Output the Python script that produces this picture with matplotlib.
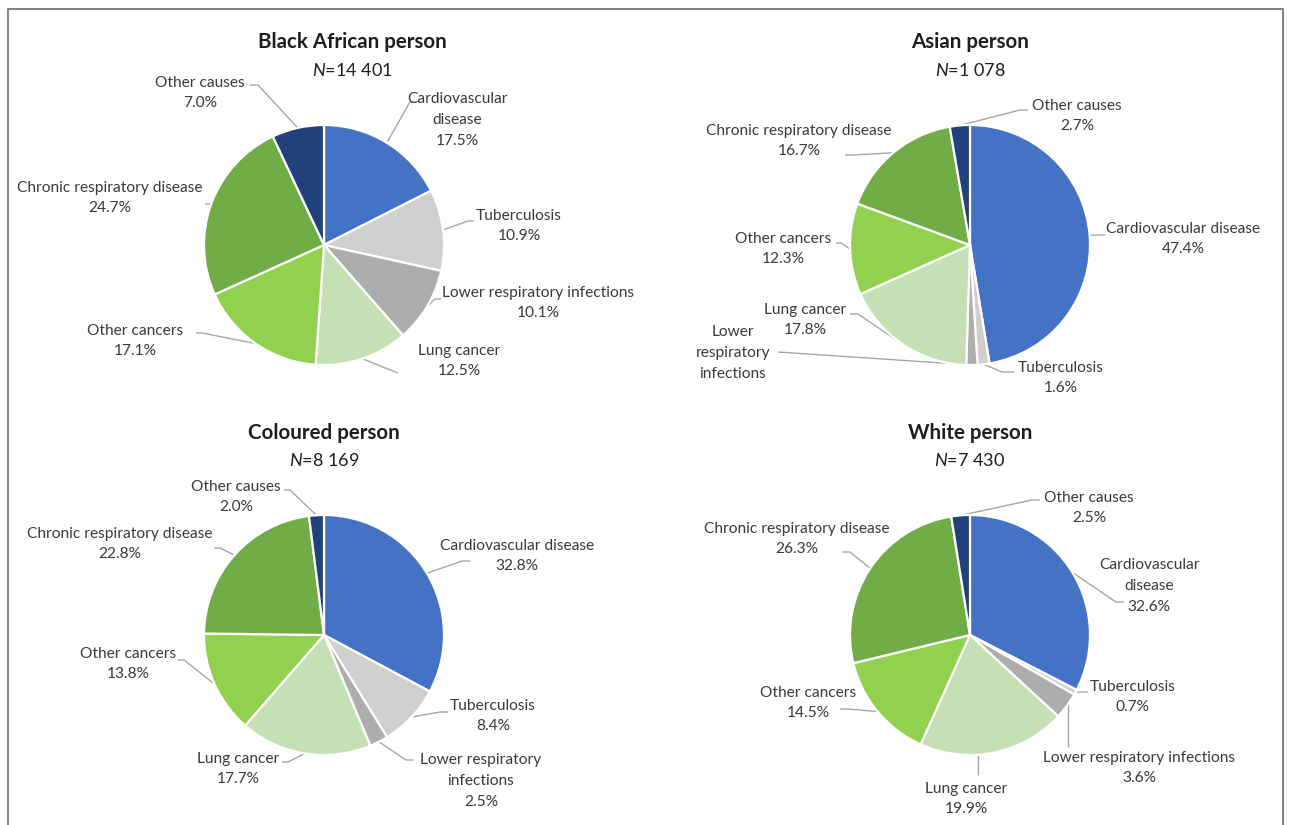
import numpy as np
import matplotlib
matplotlib.use("Agg")
import matplotlib.pyplot as plt

plt.rcParams['font.family'] = ['Lato', 'DejaVu Sans']
plt.rcParams['mathtext.fontset'] = 'custom'
plt.rcParams['mathtext.it'] = 'Lato:italic'
plt.rcParams['mathtext.rm'] = 'Lato'

# ---- data -------------------------------------------------------------
causes = ["Cardiovascular disease", "Tuberculosis", "Lower respiratory infections",
          "Lung cancer", "Other cancers", "Chronic respiratory disease", "Other causes"]
cause_colors = ["#4472C4", "#D0CECE", "#ADADAD", "#C5E0B4", "#92D050", "#70AD47", "#22407A"]

groups = ["Black African person", "Asian person", "Coloured person", "White person"]
group_n = ["14 401", "1 078", "8 169", "7 430"]

black_african = [17.5, 10.9, 10.1, 12.5, 17.1, 24.7, 7.0]
asian = [47.4, 1.6, 1.5, 17.8, 12.3, 16.7, 2.7]
coloured = [32.8, 8.4, 2.5, 17.7, 13.8, 22.8, 2.0]
white = [32.6, 0.7, 3.6, 19.9, 14.5, 26.3, 2.5]

# label for Asian lower respiratory infections is printed without a percentage
asian_show_value = [True, True, False, True, True, True, True]

# ---- layout (pixel coordinates, y measured from the top) ---------------
W, H = 1289, 825
R = 120
def Y(y):
    return H - y

layout = {
    "Black African person": dict(
        center=(324, 245), title=(352, 42),
        wrap=["Cardiovascular\ndisease", "Tuberculosis", "Lower respiratory infections",
              "Lung cancer", "Other cancers", "Chronic respiratory disease", "Other causes"],
        text=[(457, 120), (519, 226), (538, 303), (459, 361), (135, 341), (110, 198), (200, 93)],
        lead=[(416, 102, -6), (474, 221, -6), (441, 299, -6), (398, 373, 0),
              (196, 333, 6), (205, 204, 4), (250, 85, 8)]),
    "Asian person": dict(
        center=(970, 245), title=(970, 42),
        wrap=["Cardiovascular disease", "Tuberculosis", "Lower\nrespiratory\ninfections",
              "Lung cancer", "Other cancers", "Chronic respiratory disease", "Other causes"],
        text=[(1183, 239), (1061, 378), (733, 353), (805, 320), (783, 249), (799, 141), (1077, 116)],
        lead=[(1105, 235, -6), (1014, 372, -12), (778, 352, 0), (850, 314, 8),
              (836, 243, 5), (845, 155, 8), (1028, 110, -8)]),
    "Coloured person": dict(
        center=(324, 635), title=(324, 433),
        wrap=["Cardiovascular disease", "Tuberculosis", "Lower respiratory\ninfections",
              "Lung cancer", "Other cancers", "Chronic respiratory disease", "Other causes"],
        text=[(517, 556), (493, 716), (481, 781), (238, 769), (128, 664), (120, 544), (236, 497)],
        lead=[(470, 561, -8), (448, 712, -8), (413, 760, -7), (282, 762, 6),
              (178, 660, 6), (214, 548, 6), (284, 490, 6)]),
    "White person": dict(
        center=(970, 635), title=(970, 433),
        wrap=["Cardiovascular\ndisease", "Tuberculosis", "Lower respiratory infections",
              "Lung cancer", "Other cancers", "Chronic respiratory disease", "Other causes"],
        text=[(1149, 586), (1133, 697), (1139, 768), (966, 799), (808, 703), (797, 539), (1089, 508)],
        lead=[(1124, 602, -8), (1088, 692, -6), (1068, 747, "v"), (978, 775, "v"),
              (840, 709, 8), (842, 552, 8), (1040, 500, -8)]),
}

series = {"Black African person": black_african, "Asian person": asian,
          "Coloured person": coloured, "White person": white}
show_values = {"Asian person": asian_show_value}

label_color = "#3A3A3A"
line_color = "#A6A6A6"

fig = plt.figure(figsize=(W / 100, H / 100), dpi=100)
ax = fig.add_axes([0, 0, 1, 1])

for grp, n in zip(groups, group_n):
    L = layout[grp]
    vals = series[grp]
    cx, cy = L["center"]
    wedges, _ = ax.pie(vals, center=(cx, Y(cy)), radius=R, startangle=90,
                       counterclock=False, colors=cause_colors,
                       wedgeprops=dict(edgecolor="white", linewidth=1.6))
    tx, ty = L["title"]
    ax.text(tx, Y(ty), grp, ha="center", va="center", fontsize=14.8,
            fontweight="bold", color="#1E1E1E")
    ax.text(tx, Y(ty + 28), r"$\mathit{N}$=" + n, ha="center", va="center",
            fontsize=13, color="#1E1E1E")

    flags = show_values.get(grp, [True] * len(vals))
    for i, (w, v) in enumerate(zip(wedges, vals)):
        label = L["wrap"][i] + (f"\n{v:.1f}%" if flags[i] else "")
        lx, ly = L["text"][i]
        ax.text(lx, Y(ly), label, ha="center", va="center", fontsize=11.2,
                color=label_color, linespacing=1.6)
        sx, sy, dx = L["lead"][i]
        if dx == "v":
            ex = sx
            ey = Y(cy) + (-1 if sy > cy else 1) * np.sqrt(R ** 2 - (sx - cx) ** 2)
            xs, ys = [sx, ex], [Y(sy), ey]
        else:
            mid = np.deg2rad((w.theta1 + w.theta2) / 2)
            ex = cx + R * np.cos(mid)
            ey = Y(cy) + R * np.sin(mid)
            xs, ys = [sx, sx + dx, ex], [Y(sy), Y(sy), ey]
        ax.plot(xs, ys, color=line_color, lw=1.0, solid_capstyle="butt", zorder=0.5)

# outer frame, open at the bottom
ax.plot([8, 8, 1283, 1283], [0, Y(9), Y(9), 0], color="#808080", lw=1.4, clip_on=False)

ax.set_xlim(0, W)
ax.set_ylim(0, H)
ax.set_aspect("equal")
ax.axis("off")

fig.savefig("out.png", dpi=100, facecolor="white")
